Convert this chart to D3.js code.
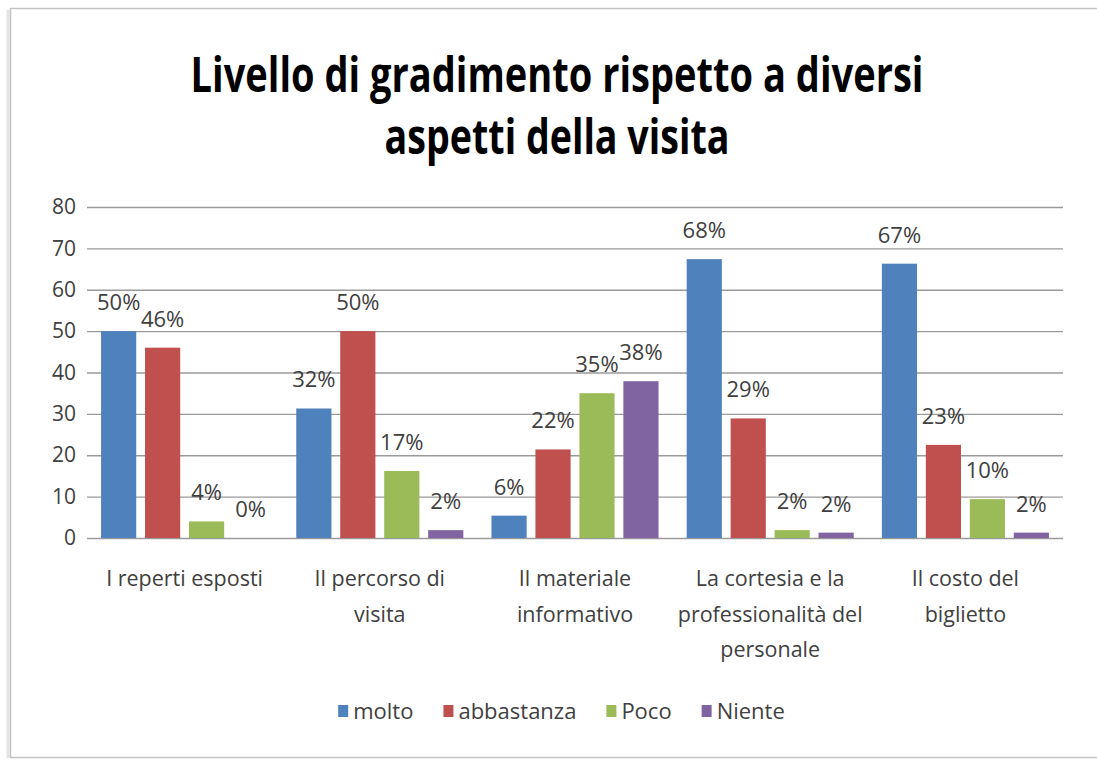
<!DOCTYPE html>
<html>
<head>
<meta charset="utf-8">
<script src="https://cdn.jsdelivr.net/npm/d3@7/dist/d3.min.js"></script>
<style>
  html, body { margin: 0; padding: 0; background: #ffffff; }
  svg { display: block; }
</style>
</head>
<body>
<svg id="chart" width="1097" height="760"></svg>
<script>
// ---- DATA ----
const titleLines = ["Livello di gradimento rispetto a diversi", "aspetti della visita"];
const categories = [
  "I reperti esposti",
  "Il percorso di\nvisita",
  "Il materiale\ninformativo",
  "La cortesia e la\nprofessionalità del\npersonale",
  "Il costo del\nbiglietto"
];
const seriesNames = ["molto", "abbastanza", "Poco", "Niente"];
const molto      = [50, 31.3, 5.4, 67.4, 66.3];
const abbastanza = [46, 50, 21.4, 28.9, 22.5];
const poco       = [4, 16.2, 35, 1.9, 9.4];
const niente     = [0, 1.9, 37.9, 1.3, 1.3];
const moltoLabels      = ["50%", "32%", "6%", "68%", "67%"];
const abbastanzaLabels = ["46%", "50%", "22%", "29%", "23%"];
const pocoLabels       = ["4%", "17%", "35%", "2%", "10%"];
const nienteLabels     = ["0%", "2%", "38%", "2%", "2%"];
const yTicks = [0, 10, 20, 30, 40, 50, 60, 70, 80];

const seriesValues = [molto, abbastanza, poco, niente];
const seriesLabels = [moltoLabels, abbastanzaLabels, pocoLabels, nienteLabels];
const colors = ["#4F81BD", "#C0504D", "#9BBB59", "#8064A2"];

// ---- LAYOUT ----
const svg = d3.select("#chart");
const W = 1097, H = 760;
const plot = { left: 87, right: 1063, top: 207, bottom: 538 };
const textColor = "#404040";
const font = "'Open Sans', 'Liberation Sans', sans-serif";

svg.append("rect").attr("x", 0).attr("y", 0).attr("width", W).attr("height", H).attr("fill", "#fff");

// frame with slight shadow
svg.append("line").attr("x1", 8).attr("x2", 8).attr("y1", 10).attr("y2", 758)
  .attr("stroke", "#e4e4e4").attr("stroke-width", 3);
svg.append("rect").attr("x", 10.5).attr("y", 8.5).attr("width", 1100).attr("height", 749)
  .attr("fill", "none").attr("stroke", "#c4c4c4").attr("stroke-width", 1.5);

// title (horizontally condensed via transform)
const title = svg.append("g");
const titleWidths = [733, 345];
const titleYs = [92, 154];
const titleCx = 557;
titleLines.forEach((t, i) => {
  const txt = title.append("text")
    .attr("x", 0).attr("y", 0)
    .attr("text-anchor", "middle")
    .attr("font-family", font).attr("font-weight", "bold")
    .attr("font-size", 49).attr("fill", "#000")
    .text(t);
  const natural = txt.node().getComputedTextLength();
  const sx = titleWidths[i] / natural;
  txt.attr("transform", `translate(${titleCx},${titleYs[i]}) scale(${sx},1)`);
});

// scales
const y = d3.scaleLinear().domain([0, 80]).range([plot.bottom, plot.top]);
const x0 = d3.scaleBand().domain(d3.range(categories.length)).range([plot.left, plot.right]).padding(0);
const x1 = d3.scaleBand().domain(d3.range(seriesNames.length)).range([0, x0.bandwidth()])
  .paddingInner(0.2).paddingOuter(0.32);

// gridlines via axis
const yAxis = d3.axisLeft(y).tickValues(yTicks).tickSize(-(plot.right - plot.left)).tickPadding(11).tickFormat(d3.format("d"));
const gy = svg.append("g").attr("transform", `translate(${plot.left},0)`).call(yAxis);
gy.select(".domain").remove();
gy.selectAll(".tick line").attr("stroke", "#9a9a9a").attr("stroke-width", 1.3);
gy.selectAll(".tick text").attr("font-family", font).attr("font-size", 21).attr("fill", textColor);

// bars
const groups = svg.append("g").selectAll("g")
  .data(categories.map((c, i) => i)).join("g")
  .attr("transform", i => `translate(${x0(i)},0)`);

groups.selectAll("rect")
  .data(i => seriesValues.map((vals, s) => ({ s, v: vals[i], label: seriesLabels[s][i] })))
  .join("rect")
  .attr("x", d => x1(d.s))
  .attr("y", d => y(d.v))
  .attr("width", x1.bandwidth())
  .attr("height", d => y(0) - y(d.v))
  .attr("fill", d => colors[d.s]);

groups.selectAll("text.lbl")
  .data(i => seriesValues.map((vals, s) => ({ s, v: vals[i], label: seriesLabels[s][i] })))
  .join("text").attr("class", "lbl")
  .attr("x", d => x1(d.s) + x1.bandwidth() / 2)
  .attr("y", d => y(d.v) - 21)
  .attr("text-anchor", "middle")
  .attr("font-family", font).attr("font-size", 22).attr("fill", textColor)
  .text(d => d.label);

// category labels
const cat = svg.append("g");
categories.forEach((c, i) => {
  const lines = c.split("\n");
  const t = cat.append("text")
    .attr("text-anchor", "middle")
    .attr("font-family", font).attr("font-size", 21.5).attr("fill", textColor);
  lines.forEach((ln, j) => {
    t.append("tspan").attr("x", x0(i) + x0.bandwidth() / 2).attr("y", 586 + j * 35.5).text(ln);
  });
});

// legend
const legend = svg.append("g");
let lx = 0;
const gap = 30;
const items = [];
seriesNames.forEach((n, i) => {
  const g = legend.append("g");
  g.append("rect").attr("x", 0).attr("y", -6).attr("width", 10).attr("height", 12).attr("fill", colors[i]);
  const t = g.append("text").attr("x", 15).attr("y", 0).attr("dy", "0.35em").attr("font-family", font)
    .attr("font-size", 22).attr("fill", textColor).text(n);
  const w = 15 + t.node().getComputedTextLength();
  items.push({ g, x: lx });
  lx += w + gap;
});
const legendW = lx - gap;
const legendStart = 561.5 - legendW / 2;
items.forEach(it => it.g.attr("transform", `translate(${legendStart + it.x},${711})`));
</script>
</body>
</html>
